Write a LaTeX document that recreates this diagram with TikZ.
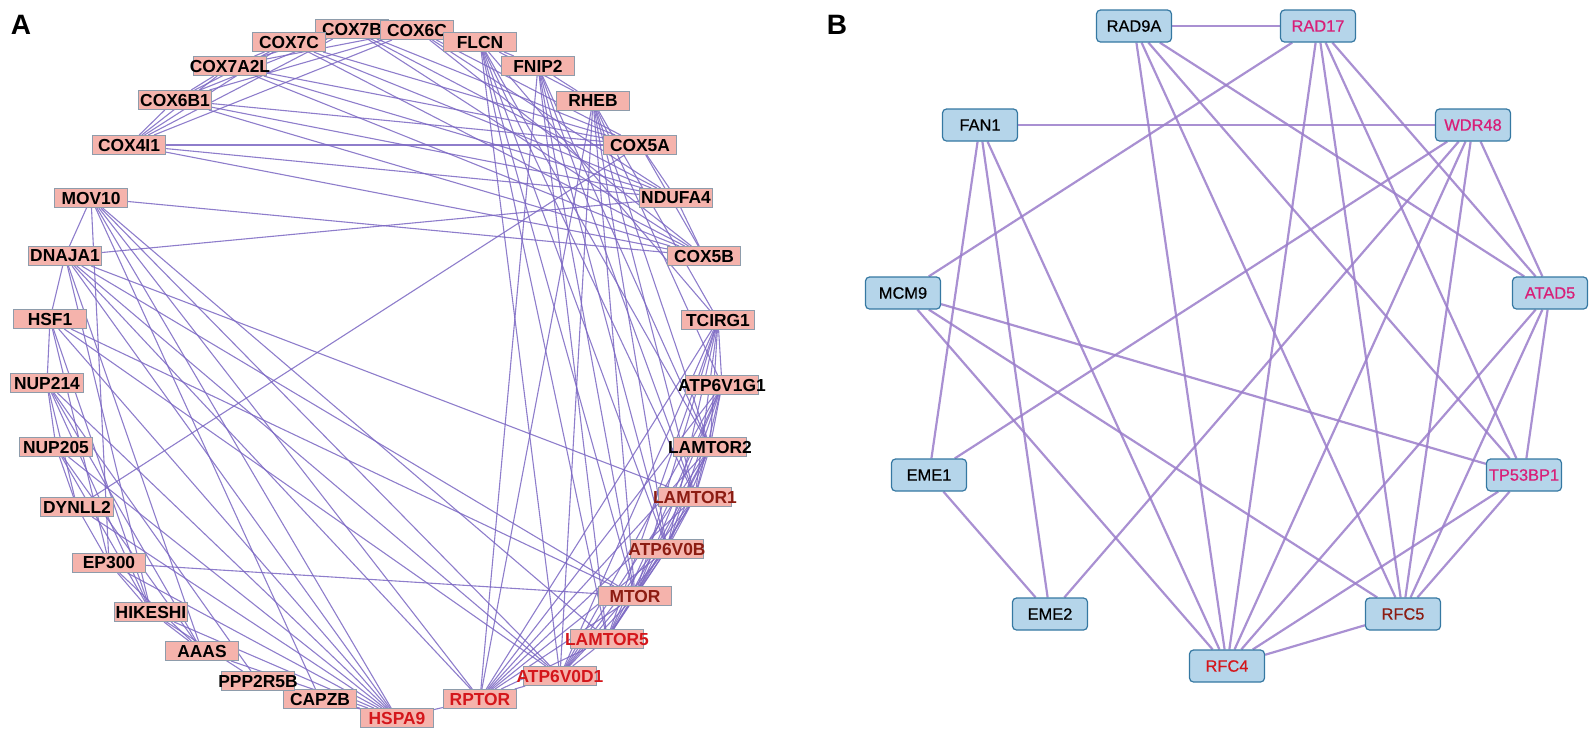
\documentclass[tikz,border=0pt]{standalone}
\usepackage{fontspec}
\setmainfont{Liberation Sans}
\newfontfamily\protfont[FakeBold=0.5]{Liberation Sans}
\usetikzlibrary{backgrounds}

\definecolor{genefill}{HTML}{F5B3AC}
\definecolor{genedraw}{HTML}{8E9CAB}
\definecolor{protfill}{HTML}{B5D5EA}
\definecolor{protdraw}{HTML}{3578A2}
\definecolor{edgeacol}{HTML}{7A66C2}
\definecolor{edgebcol}{HTML}{9A7DCA}
\definecolor{hired}{HTML}{D4161B}
\definecolor{brickred}{HTML}{8C1C12}
\definecolor{magentared}{HTML}{D81F78}

\tikzset{
  gene/.style={draw=genedraw, fill=genefill, line width=0.5pt, minimum width=36.5pt,
    minimum height=9.5pt, inner sep=0pt, font=\fontsize{8.7}{9}\selectfont\bfseries},
  prot/.style={draw=protdraw, fill=protfill, line width=0.6pt, rounded corners=2pt,
    minimum width=37.5pt, minimum height=16pt, inner sep=0pt, font=\protfont\fontsize{8.2}{9}\selectfont},
  linka/.style={draw=edgeacol, line width=0.55pt, opacity=0.85},
  linkb/.style={draw=edgebcol, line width=1.1pt, opacity=0.85},
  panel/.style={font=\fontsize{14}{14}\selectfont\bfseries}
}
\newcommand{\gn}[1]{\makebox[0pt]{#1}}

\begin{document}
\begin{tikzpicture}[x=0.5pt, y=-0.5pt]
    \useasboundingbox (0,0) rectangle (1595,736);

    \node[panel] (labA) at (21,25) {A};
    \node[panel] (labB) at (837,25) {B};

    % A: genes on the circle
    \node[gene] (cox7b) at (352,29) {\gn{COX7B}};
    \node[gene] (cox6c) at (417,30) {\gn{COX6C}};
    \node[gene] (flcn) at (480,42) {\gn{FLCN}};
    \node[gene] (fnip2) at (538,66) {\gn{FNIP2}};
    \node[gene] (rheb) at (593,101) {\gn{RHEB}};
    \node[gene] (cox5a) at (640,145) {\gn{COX5A}};
    \node[gene] (ndufa4) at (676,198) {\gn{NDUFA4}};
    \node[gene] (cox5b) at (704,256) {\gn{COX5B}};
    \node[gene] (tcirg1) at (718,320) {\gn{TCIRG1}};
    \node[gene] (atp6v1g1) at (722,385) {\gn{ATP6V1G1}};
    \node[gene] (lamtor2) at (710,447) {\gn{LAMTOR2}};
    \node[gene, text=brickred] (lamtor1) at (695,497) {\gn{LAMTOR1}};
    \node[gene, text=brickred] (atp6v0b) at (667,549) {\gn{ATP6V0B}};
    \node[gene, text=brickred] (mtor) at (635,596) {\gn{MTOR}};
    \node[gene, text=hired] (lamtor5) at (607,639) {\gn{LAMTOR5}};
    \node[gene, text=hired] (atp6v0d1) at (560,676) {\gn{ATP6V0D1}};
    \node[gene, text=hired] (rptor) at (480,699) {\gn{RPTOR}};
    \node[gene, text=hired] (hspa9) at (397,718) {\gn{HSPA9}};
    \node[gene] (capzb) at (320,699) {\gn{CAPZB}};
    \node[gene] (ppp2r5b) at (258,681) {\gn{PPP2R5B}};
    \node[gene] (aaas) at (202,651) {\gn{AAAS}};
    \node[gene] (hikeshi) at (151,612) {\gn{HIKESHI}};
    \node[gene] (ep300) at (109,563) {\gn{EP300}};
    \node[gene] (dynll2) at (77,507) {\gn{DYNLL2}};
    \node[gene] (nup205) at (56,447) {\gn{NUP205}};
    \node[gene] (nup214) at (47,383) {\gn{NUP214}};
    \node[gene] (hsf1) at (50,319) {\gn{HSF1}};
    \node[gene] (dnaja1) at (65,256) {\gn{DNAJA1}};
    \node[gene] (mov10) at (91,198) {\gn{MOV10}};
    \node[gene] (cox4i1) at (129,145) {\gn{COX4I1}};
    \node[gene] (cox6b1) at (175,100) {\gn{COX6B1}};
    \node[gene] (cox7a2l) at (230,66) {\gn{COX7A2L}};
    \node[gene] (cox7c) at (289,42) {\gn{COX7C}};

    % B: proteins
    \node[prot] (rad9a) at (1134,26) {RAD9A};
    \node[prot, text=magentared] (rad17) at (1318,26) {RAD17};
    \node[prot] (fan1) at (980,125) {FAN1};
    \node[prot, text=magentared] (wdr48) at (1473,125) {WDR48};
    \node[prot] (mcm9) at (903,293) {MCM9};
    \node[prot, text=magentared] (atad5) at (1550,293) {ATAD5};
    \node[prot] (eme1) at (929,475) {EME1};
    \node[prot, text=magentared] (tp53bp1) at (1524,475) {TP53BP1};
    \node[prot] (eme2) at (1050,614) {EME2};
    \node[prot, text=brickred] (rfc5) at (1403,614) {RFC5};
    \node[prot, text=hired] (rfc4) at (1227,666) {RFC4};

    \begin{scope}[on background layer]
    % cytochrome c oxidase block
    \foreach \a/\b in {cox7b/cox6c, cox7b/cox7c, cox7b/cox7a2l, cox7b/cox6b1, cox7b/cox4i1,
        cox7b/cox5a, cox7b/ndufa4, cox7b/cox5b, cox6c/cox7c, cox6c/cox7a2l, cox6c/cox6b1,
        cox6c/cox4i1, cox6c/cox5a, cox6c/ndufa4, cox6c/cox5b, cox7c/cox7a2l, cox7c/cox6b1,
        cox7c/cox4i1, cox7c/cox5a, cox7c/ndufa4, cox7c/cox5b, cox7a2l/cox6b1, cox7a2l/cox4i1,
        cox7a2l/cox5a, cox7a2l/ndufa4, cox7a2l/cox5b, cox6b1/cox4i1, cox6b1/cox5a,
        cox6b1/ndufa4, cox6b1/cox5b, cox4i1/cox5a, cox4i1/ndufa4, cox4i1/cox5b,
        cox5a/ndufa4, cox5a/cox5b, ndufa4/cox5b}
        \draw[linka] (\a) -- (\b);
    % mTOR / lysosome block
    \foreach \a/\b in {flcn/fnip2, flcn/rheb, flcn/mtor, flcn/atp6v0b, flcn/lamtor1, flcn/lamtor2,
        flcn/lamtor5, flcn/atp6v0d1, flcn/tcirg1, fnip2/rheb, fnip2/mtor, fnip2/rptor,
        fnip2/lamtor1, fnip2/lamtor2, fnip2/lamtor5, fnip2/atp6v0b, rheb/mtor, rheb/rptor,
        rheb/lamtor1, rheb/lamtor2, rheb/atp6v0d1, rheb/tcirg1, rheb/atp6v1g1, rheb/atp6v0b,
        tcirg1/atp6v1g1, tcirg1/lamtor2, tcirg1/lamtor1, tcirg1/atp6v0b, tcirg1/mtor,
        tcirg1/lamtor5, tcirg1/atp6v0d1, tcirg1/rptor, atp6v1g1/lamtor2, atp6v1g1/lamtor1,
        atp6v1g1/atp6v0b, atp6v1g1/mtor, atp6v1g1/lamtor5, atp6v1g1/atp6v0d1, atp6v1g1/rptor,
        lamtor2/lamtor1, lamtor2/atp6v0b, lamtor2/mtor, lamtor2/lamtor5, lamtor2/atp6v0d1,
        lamtor2/rptor, lamtor1/atp6v0b, lamtor1/mtor, lamtor1/lamtor5, lamtor1/atp6v0d1,
        lamtor1/rptor, atp6v0b/mtor, atp6v0b/lamtor5, atp6v0b/atp6v0d1, atp6v0b/rptor,
        mtor/lamtor5, mtor/atp6v0d1, mtor/rptor, lamtor5/atp6v0d1, lamtor5/rptor, atp6v0d1/rptor}
        \draw[linka] (\a) -- (\b);
    % chaperone / nuclear pore block
    \foreach \a/\b in {hspa9/rptor, hspa9/capzb, hspa9/ppp2r5b, hspa9/aaas, hspa9/hikeshi,
        hspa9/ep300, hspa9/dynll2, hspa9/nup205, hspa9/nup214, hspa9/hsf1, hspa9/dnaja1,
        hspa9/mov10, dnaja1/mov10, dnaja1/hsf1, dnaja1/hikeshi, dnaja1/aaas, dnaja1/rptor,
        dnaja1/atp6v0d1, dnaja1/mtor, dnaja1/lamtor1, dnaja1/ndufa4, hsf1/ep300, hsf1/hikeshi,
        hsf1/mtor, hsf1/atp6v0d1, hsf1/nup214, mov10/ep300, mov10/rptor, mov10/atp6v0d1,
        mov10/lamtor5, mov10/cox5b, mov10/capzb, nup214/nup205, nup214/aaas, nup214/hikeshi,
        nup214/dynll2, nup214/ppp2r5b, nup205/aaas, nup205/dynll2, nup205/hikeshi,
        dynll2/cox5a, dynll2/ep300, ep300/mtor, ep300/hikeshi, ep300/aaas, hikeshi/aaas,
        hikeshi/ppp2r5b}
        \draw[linka] (\a) -- (\b);

    % B
    \foreach \a/\b in {rad9a/rad17, rad9a/rfc4, rad9a/rfc5, rad9a/tp53bp1, rad9a/atad5,
        rad17/mcm9, rad17/rfc4, rad17/rfc5, rad17/tp53bp1, rad17/atad5,
        fan1/wdr48, fan1/eme1, fan1/eme2, fan1/rfc4,
        wdr48/eme1, wdr48/eme2, wdr48/rfc4, wdr48/rfc5, wdr48/atad5,
        mcm9/rfc4, mcm9/rfc5, mcm9/tp53bp1, atad5/tp53bp1, atad5/rfc4, atad5/rfc5,
        tp53bp1/rfc4, tp53bp1/rfc5, eme1/eme2, rfc4/rfc5}
        \draw[linkb] (\a) -- (\b);
    \end{scope}
\end{tikzpicture}
\end{document}
